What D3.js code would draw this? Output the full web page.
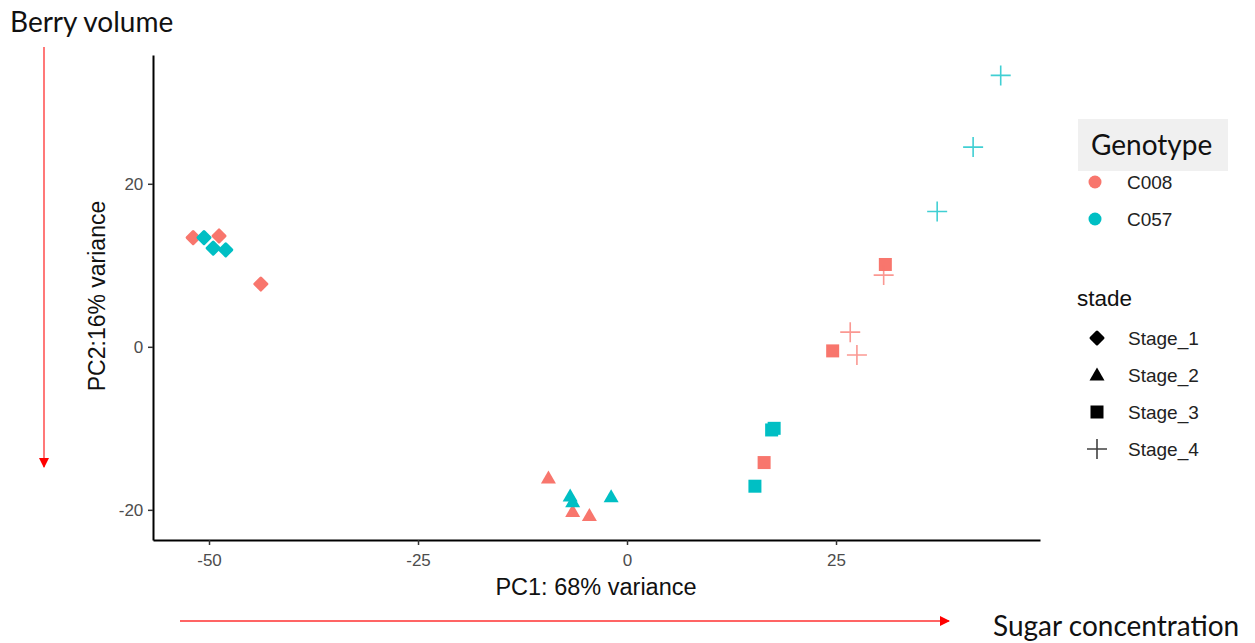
<!DOCTYPE html>
<meta charset="utf-8">
<body style="margin:0;background:#fff">
<svg width="1255" height="643" font-family="'Liberation Sans', Arial, sans-serif"></svg>
</body>
<script src="https://d3js.org/d3.v7.min.js"></script>
<script>

var genotypes = ["C008", "C057"];
var stages = ["Stage_1", "Stage_2", "Stage_3", "Stage_4"];
var colors = ["#F8766D", "#00BFC4"];

// PCA scores: [PC1, PC2]
var C008_Stage_1 = [[-51.9, 13.4], [-48.8, 13.6], [-43.8, 7.7]];
var C057_Stage_1 = [[-50.6, 13.4], [-49.5, 12.1], [-48.0, 11.9]];
var C008_Stage_2 = [[-9.4, -16.1], [-6.5, -20.2], [-4.5, -20.7]];
var C057_Stage_2 = [[-6.8, -18.3], [-6.5, -19.0], [-1.9, -18.4]];
var C008_Stage_3 = [[24.6, -0.5], [30.9, 10.1], [16.4, -14.2]];
var C057_Stage_3 = [[17.3, -10.2], [17.6, -10.0], [15.3, -17.1]];
var C008_Stage_4 = [[26.7, 1.8], [27.5, -1.0], [30.7, 8.8]];
var C057_Stage_4 = [[37.1, 16.6], [41.4, 24.5], [44.7, 33.3]];

var xTicks = [-50, -25, 0, 25];
var yTicks = [-20, 0, 20];

var svg = d3.select("svg");

var x = d3.scaleLinear().domain([-56.7, 49.4]).range([153, 1040]);
var y = d3.scaleLinear().domain([-23.7, 35.8]).range([540, 55]);

var points = [];
[[C008_Stage_1, 0, 0], [C057_Stage_1, 1, 0], [C008_Stage_2, 0, 1], [C057_Stage_2, 1, 1],
 [C008_Stage_3, 0, 2], [C057_Stage_3, 1, 2], [C008_Stage_4, 0, 3], [C057_Stage_4, 1, 3]]
  .forEach(function(s) {
    s[0].forEach(function(p) { points.push({pc1: p[0], pc2: p[1], g: s[1], s: s[2]}); });
  });

var color = d3.scaleOrdinal().domain([0, 1]).range(colors);

function drawShape(sel, st, col) {
  if (st == 0) {
    sel.append("path").attr("d", "M0,-6L6,0L0,6L-6,0Z")
      .attr("fill", col).attr("stroke", col).attr("stroke-width", 3).attr("stroke-linejoin", "round");
  } else if (st == 1) {
    sel.append("path").attr("d", "M0,-7.5L7.5,5.5L-7.5,5.5Z").attr("fill", col);
  } else if (st == 2) {
    sel.append("rect").attr("x", -6.5).attr("y", -6.5).attr("width", 13).attr("height", 13).attr("fill", col);
  } else {
    sel.append("path").attr("d", "M-10,0H10M0,-10V10")
      .attr("stroke", col).attr("stroke-width", 1.6).attr("opacity", 0.75).attr("fill", "none");
  }
}

// axes
var xAxis = svg.append("g").attr("transform", "translate(0,540)")
  .call(d3.axisBottom(x).tickValues(xTicks).tickFormat(String).tickSize(5).tickSizeOuter(0));
var yAxis = svg.append("g").attr("transform", "translate(153,0)")
  .call(d3.axisLeft(y).tickValues(yTicks).tickFormat(String).tickSize(5).tickSizeOuter(0));
[xAxis, yAxis].forEach(function(a) {
  a.select(".domain").attr("stroke", "#000").attr("stroke-width", 2);
  a.selectAll(".tick line").attr("stroke", "#333").attr("stroke-width", 1.5);
  a.selectAll(".tick text").attr("fill", "#4d4d4d").attr("font-size", 17)
    .attr("font-family", "'Liberation Sans', Arial, sans-serif");
});
xAxis.selectAll(".tick text").attr("dy", "1.05em");
yAxis.selectAll(".tick text").attr("dx", "-0.1em");

// points
svg.append("g").selectAll("g").data(points).enter().append("g")
  .attr("transform", function(d) { return "translate(" + x(d.pc1) + "," + y(d.pc2) + ")"; })
  .each(function(d) { drawShape(d3.select(this), d.s, color(d.g)); });

// axis titles
svg.append("text").attr("x", 596).attr("y", 595).attr("text-anchor", "middle")
  .attr("font-size", 23.5).attr("fill", "#111").text("PC1: 68% variance");
svg.append("text").attr("transform", "translate(105,296) rotate(-90)").attr("text-anchor", "middle")
  .attr("font-size", 23).attr("fill", "#111").text("PC2:16% variance");

// legend: Genotype
svg.append("rect").attr("x", 1078).attr("y", 119).attr("width", 150).attr("height", 52).attr("fill", "#f0f0f0");
svg.append("text").attr("x", 1091).attr("y", 155).attr("font-family", "Lato, 'Open Sans', sans-serif")
  .attr("font-size", 28).attr("fill", "#111").text("Genotype");
var gLeg = svg.append("g").selectAll("g").data(genotypes).enter().append("g")
  .attr("transform", function(d, i) { return "translate(1095," + (182 + i * 37) + ")"; });
gLeg.append("circle").attr("r", 6.5).attr("fill", function(d, i) { return colors[i]; });
gLeg.append("text").attr("x", 32).attr("y", 7).attr("font-size", 19).attr("fill", "#222").text(function(d) { return d; });

svg.append("text").attr("x", 1077).attr("y", 306).attr("font-size", 22.5).attr("fill", "#111").text("stade");
var sLeg = svg.append("g").selectAll("g").data(stages).enter().append("g")
  .attr("transform", function(d, i) { return "translate(1097," + (338 + i * 37) + ")"; });
sLeg.each(function(d, i) { drawShape(d3.select(this), i, "#000"); });
sLeg.append("text").attr("x", 31).attr("y", 7).attr("font-size", 19).attr("fill", "#222").text(function(d) { return d; });

// annotation arrows
var defs = svg.append("defs");
defs.append("marker").attr("id", "head").attr("viewBox", "0 0 10 10").attr("refX", 9).attr("refY", 5)
  .attr("markerWidth", 10).attr("markerHeight", 10).attr("markerUnits", "userSpaceOnUse").attr("orient", "auto")
  .append("path").attr("d", "M0,0L10,5L0,10Z").attr("fill", "#ff0000");

svg.append("line").attr("x1", 44).attr("y1", 47).attr("x2", 44).attr("y2", 467)
  .attr("stroke", "#ff3030").attr("stroke-width", 1.3).attr("marker-end", "url(#head)");
svg.append("line").attr("x1", 180).attr("y1", 621).attr("x2", 949).attr("y2", 621)
  .attr("stroke", "#ff3030").attr("stroke-width", 1.3).attr("marker-end", "url(#head)");

svg.append("text").attr("x", 10).attr("y", 32).attr("font-family", "Lato, 'Open Sans', sans-serif")
  .attr("font-size", 28).attr("fill", "#111").text("Berry volume");
svg.append("text").attr("x", 993).attr("y", 636).attr("font-family", "Lato, 'Open Sans', sans-serif")
  .attr("font-size", 28).attr("fill", "#111").text("Sugar concentration");

</script>
